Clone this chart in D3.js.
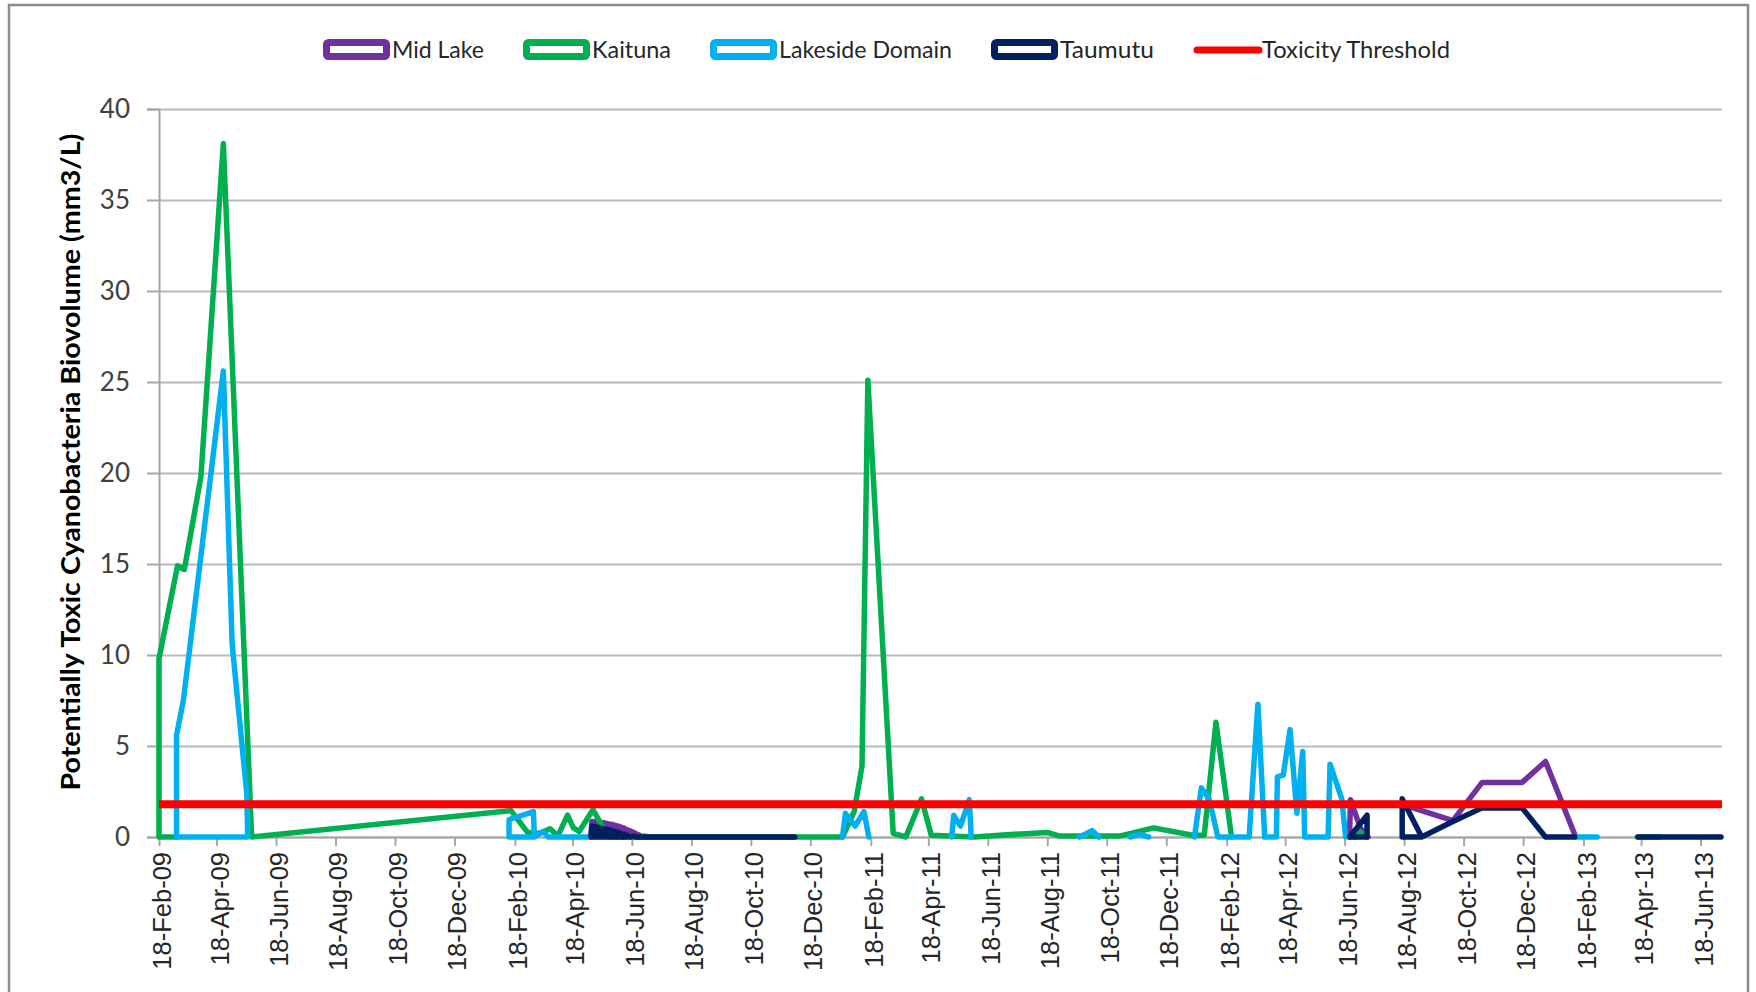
<!DOCTYPE html>
<html>
<head>
<meta charset="utf-8">
<script src="https://d3js.org/d3.v7.min.js"></script>
<style>
  body { margin: 0; background: #fff; }
  svg { display: block; }
</style>
</head>
<body>
<svg id="chart" width="1756" height="992"></svg>
<script>
// values (null = break in the line)
var midLakeDates = [
  "2010-05-07", "2010-05-08", "2010-05-10", "2010-05-11", "2010-05-13", "2010-05-14",
  "2010-05-16", "2010-05-17", "2010-05-19", "2010-05-20", "2010-05-22", "2010-05-23",
  "2010-05-25", "2010-05-26", "2010-05-28", "2010-05-29", "2010-05-31", "2010-06-01",
  "2010-06-03", "2010-06-04", "2010-06-06", "2010-06-07", "2010-06-09", "2010-06-10",
  "2010-06-12", "2010-06-13", "2010-06-15", "2010-06-16", "2010-06-18", "2010-06-19",
  "2010-06-21", "2010-06-22", "2010-06-24", "2010-06-25", "2010-06-28", "2010-07-01",
  "2010-07-05", "2010-12-02",
  null,
  "2012-06-23", "2012-06-24", "2012-07-04", "2012-07-12",
  null,
  "2012-08-15", "2012-10-07", "2012-11-06", "2012-12-17", "2013-01-10", "2013-02-10"
];
var midLakeValues = [
  0, 0.85, 0, 0.85, 0, 0.85,
  0, 0.8, 0, 0.8, 0, 0.75,
  0, 0.72, 0, 0.7, 0, 0.65,
  0, 0.6, 0, 0.55, 0, 0.5,
  0, 0.42, 0, 0.35, 0, 0.28,
  0, 0.2, 0, 0.12, 0, 0.05,
  0, 0,
  null,
  0, 2.05, 0.5, 0,
  null,
  1.8, 0.9, 3.0, 3.0, 4.15, 0
];

var kaitunaDates = [
  "2009-03-08", "2009-02-18", "2009-02-18", "2009-03-09", "2009-03-16", "2009-04-02",
  "2009-04-25", "2009-05-24", "2010-02-14", "2010-03-03", "2010-03-15", "2010-03-26",
  "2010-04-03", "2010-04-13", "2010-04-19", "2010-04-25", "2010-05-09", "2010-05-22",
  "2010-05-29", "2011-01-20", "2011-02-01", "2011-02-09", "2011-02-15", "2011-03-13",
  "2011-03-26", "2011-04-11", "2011-04-21", "2011-06-04", "2011-06-30", "2011-08-18",
  "2011-08-31", "2011-10-02", "2011-10-31", "2011-12-05", "2012-01-14", "2012-01-26",
  "2012-02-07", "2012-02-23",
  null,
  "2012-06-28", "2012-07-03", "2012-07-11",
  null,
  "2013-04-14", "2013-05-07"
];
var kaitunaValues = [
  0, 0, 9.8, 14.9, 14.7, 19.8,
  38.1, 0, 1.45, 0.25, 0.2, 0.45,
  0.05, 1.2, 0.5, 0.3, 1.5, 0.3,
  0, 0, 1.4, 3.9, 25.1, 0.2,
  0, 2.1, 0.1, 0, 0.1, 0.25,
  0.05, 0.05, 0.05, 0.5, 0.1, 0.1,
  6.3, 0,
  null,
  0, 0.3, 0,
  null,
  0, 0
];

var lakesideDates = [
  "2009-05-20", "2009-03-08", "2009-03-08", "2009-03-15", "2009-04-25", "2009-05-04",
  "2009-05-19", "2009-05-20",
  null,
  "2010-03-10", "2010-02-12", "2010-02-12", "2010-03-09", "2010-03-10", "2010-03-19",
  "2010-03-24", "2010-05-06",
  null,
  "2011-01-20", "2011-01-23", "2011-02-02", "2011-02-11", "2011-02-16",
  null,
  "2011-05-12", "2011-05-14", "2011-05-21", "2011-05-30", "2011-06-01",
  null,
  "2011-09-20", "2011-10-03", "2011-10-10",
  null,
  "2011-11-11", "2011-11-20", "2011-11-30",
  null,
  "2012-01-16", "2012-01-23", "2012-01-31", "2012-02-09", "2012-03-12", "2012-03-21",
  "2012-03-28", "2012-04-09", "2012-04-10", "2012-04-16", "2012-04-23", "2012-04-30",
  "2012-05-06", "2012-05-08", "2012-06-01", "2012-06-03", "2012-06-15", "2012-06-19",
  null,
  "2013-02-11", "2013-03-04"
];
var lakesideValues = [
  0, 0, 5.6, 7.5, 25.6, 10.6,
  2.4, 0,
  null,
  0, 0, 0.95, 1.4, 0, 0.3,
  0, 0,
  null,
  0, 1.3, 0.6, 1.4, 0,
  null,
  0, 1.2, 0.6, 2.05, 0,
  null,
  0, 0.35, 0,
  null,
  0, 0.15, 0,
  null,
  0, 2.7, 2.1, 0, 0, 7.3,
  0, 0, 3.3, 3.4, 5.9, 1.3,
  4.7, 0, 0, 4.0, 2.1, 0,
  null,
  0, 0
];

var taumutuDates = [
  "2010-05-07", "2010-05-08", "2010-05-10", "2010-05-11", "2010-05-13", "2010-05-14",
  "2010-05-16", "2010-05-17", "2010-05-19", "2010-05-20", "2010-05-22", "2010-05-23",
  "2010-05-25", "2010-05-26", "2010-05-28", "2010-05-29", "2010-05-31", "2010-06-01",
  "2010-06-03", "2010-06-04", "2010-06-06", "2010-06-07", "2010-06-09", "2010-06-10",
  "2010-06-12", "2010-06-13", "2010-06-16", "2010-06-19", "2010-06-23", "2010-12-02",
  null,
  "2012-06-23", "2012-07-11", "2012-07-11", "2012-06-23",
  null,
  "2012-09-05", "2012-08-16", "2012-08-16", "2012-09-05", "2012-10-07", "2012-11-06",
  "2012-12-17", "2013-01-10", "2013-02-09",
  null,
  "2013-04-15", "2013-07-09"
];
var taumutuValues = [
  0, 0.6, 0, 0.58, 0, 0.55,
  0, 0.5, 0, 0.47, 0, 0.43,
  0, 0.4, 0, 0.35, 0, 0.3,
  0, 0.25, 0, 0.2, 0, 0.15,
  0, 0.1, 0, 0.05, 0, 0,
  null,
  0, 1.2, 0, 0,
  null,
  0, 0, 2.1, 0, 0.85, 1.6,
  1.6, 0, 0,
  null,
  0, 0
];

var thresholdDates = ["2009-02-18", "2013-07-10"];
var thresholdValues = [1.8, 1.8];

var yTicks = [0, 5, 10, 15, 20, 25, 30, 35, 40];
var xTickDates = [
  "2009-02-18", "2009-04-18", "2009-06-18", "2009-08-18", "2009-10-18", "2009-12-18",
  "2010-02-18", "2010-04-18", "2010-06-18", "2010-08-18", "2010-10-18", "2010-12-18",
  "2011-02-18", "2011-04-18", "2011-06-18", "2011-08-18", "2011-10-18", "2011-12-18",
  "2012-02-18", "2012-04-18", "2012-06-18", "2012-08-18", "2012-10-18", "2012-12-18",
  "2013-02-18", "2013-04-18", "2013-06-18"
];

var seriesNames = ["Mid Lake", "Kaituna", "Lakeside Domain", "Taumutu", "Toxicity Threshold"];
var seriesColors = ["#7030a0", "#00b050", "#00b0f0", "#002060", "#ff0000"];
// legend text widths as drawn in the original
var legendTextWidths = [92, 79, 173, 94, 188];

var yTitle = "Potentially Toxic Cyanobacteria Biovolume (mm3/L)";

var plot = {left: 159, right: 1722, top: 109, bottom: 837};

var parse = d3.timeParse("%Y-%m-%d");
var fmt = d3.timeFormat("%d-%b-%y");

var svg = d3.select("#chart");

// chart frame
svg.append("rect")
  .attr("x", 9).attr("y", 5)
  .attr("width", 1739).attr("height", 1000)
  .attr("fill", "#fff")
  .attr("stroke", "#8c8c8c")
  .attr("stroke-width", 2.5);

var x = d3.scaleTime()
  .domain([parse("2009-02-18"), parse("2013-07-10")])
  .range([plot.left, plot.right]);
var y = d3.scaleLinear()
  .domain([0, 40])
  .range([plot.bottom, plot.top]);

// gridlines
var grid = svg.append("g")
  .attr("transform", "translate(" + plot.left + ",0)")
  .call(d3.axisLeft(y).tickValues(yTicks).tickSize(-(plot.right - plot.left)).tickFormat(""));
grid.select(".domain").remove();
grid.selectAll("line").attr("stroke", "#b9b9b9").attr("stroke-width", 2);

// y axis
var yAxis = svg.append("g")
  .attr("transform", "translate(" + plot.left + ",0)")
  .call(d3.axisLeft(y).tickValues(yTicks).tickSize(12).tickPadding(17));
yAxis.select(".domain").attr("stroke", "#a6a6a6").attr("stroke-width", 2);
yAxis.selectAll("line").attr("stroke", "#a6a6a6").attr("stroke-width", 2);
yAxis.selectAll("text")
  .attr("font-family", "Lato, 'Open Sans', sans-serif")
  .attr("font-size", 26)
  .attr("fill", "#404040");

// x axis
var xAxis = svg.append("g")
  .attr("transform", "translate(0," + plot.bottom + ")")
  .call(d3.axisBottom(x).tickValues(xTickDates.map(parse)).tickFormat(fmt).tickSize(9).tickSizeOuter(0));
xAxis.select(".domain").attr("stroke", "#a6a6a6").attr("stroke-width", 2);
xAxis.selectAll("line").attr("stroke", "#a6a6a6").attr("stroke-width", 2);
xAxis.selectAll("text")
  .attr("font-family", "'Liberation Sans', Arial, sans-serif")
  .attr("font-size", 25.5)
  .attr("fill", "#262626")
  .attr("text-anchor", "end")
  .attr("transform", "rotate(-90)")
  .attr("x", -15)
  .attr("y", 0)
  .attr("dy", "0.45em");

// y title
svg.append("text")
  .attr("transform", "translate(80,462) rotate(-90)")
  .attr("text-anchor", "middle")
  .attr("font-family", "Lato, sans-serif")
  .attr("font-weight", "bold")
  .attr("font-size", 26)
  .attr("fill", "#000")
  .attr("textLength", 657)
  .attr("lengthAdjust", "spacingAndGlyphs")
  .text(yTitle);

// series lines
function toPoints(dates, values) {
  return dates.map(function (d, i) {
    return {date: d ? parse(d) : null, value: values[i]};
  });
}
var line = d3.line()
  .defined(function (d) { return d.value !== null; })
  .x(function (d) { return x(d.date); })
  .y(function (d) { return y(d.value); });

var series = [
  toPoints(midLakeDates, midLakeValues),
  toPoints(kaitunaDates, kaitunaValues),
  toPoints(lakesideDates, lakesideValues),
  toPoints(taumutuDates, taumutuValues)
];

svg.append("g").selectAll("path")
  .data(series)
  .enter().append("path")
  .attr("d", line)
  .attr("fill", "none")
  .attr("stroke", function (d, i) { return seriesColors[i]; })
  .attr("stroke-width", 5.5)
  .attr("stroke-linejoin", "round")
  .attr("stroke-linecap", "round");

svg.append("path")
  .datum(toPoints(thresholdDates, thresholdValues))
  .attr("d", line)
  .attr("fill", "none")
  .attr("stroke", seriesColors[4])
  .attr("stroke-width", 8);

// legend
var legend = svg.append("g").attr("transform", "translate(323,0)");
var lx = 0;
seriesNames.forEach(function (name, i) {
  var g = legend.append("g").attr("transform", "translate(" + lx + ",0)");
  if (i < 4) {
    g.append("rect")
      .attr("x", 3.5).attr("y", 42.5)
      .attr("width", 60).attr("height", 14)
      .attr("rx", 2)
      .attr("fill", "#fff")
      .attr("stroke", seriesColors[i])
      .attr("stroke-width", 7);
  } else {
    g.append("line")
      .attr("x1", 4).attr("x2", 66)
      .attr("y1", 50).attr("y2", 50)
      .attr("stroke", seriesColors[i])
      .attr("stroke-width", 7)
      .attr("stroke-linecap", "round");
  }
  g.append("text")
    .attr("x", 69).attr("y", 50)
    .attr("dy", "0.35em")
    .attr("font-family", "Lato, sans-serif")
    .attr("font-size", 23)
    .attr("fill", "#262626")
    .attr("textLength", legendTextWidths[i])
    .attr("lengthAdjust", "spacingAndGlyphs")
    .text(name);
  lx += 69 + legendTextWidths[i] + 39;
});
</script>
</body>
</html>
